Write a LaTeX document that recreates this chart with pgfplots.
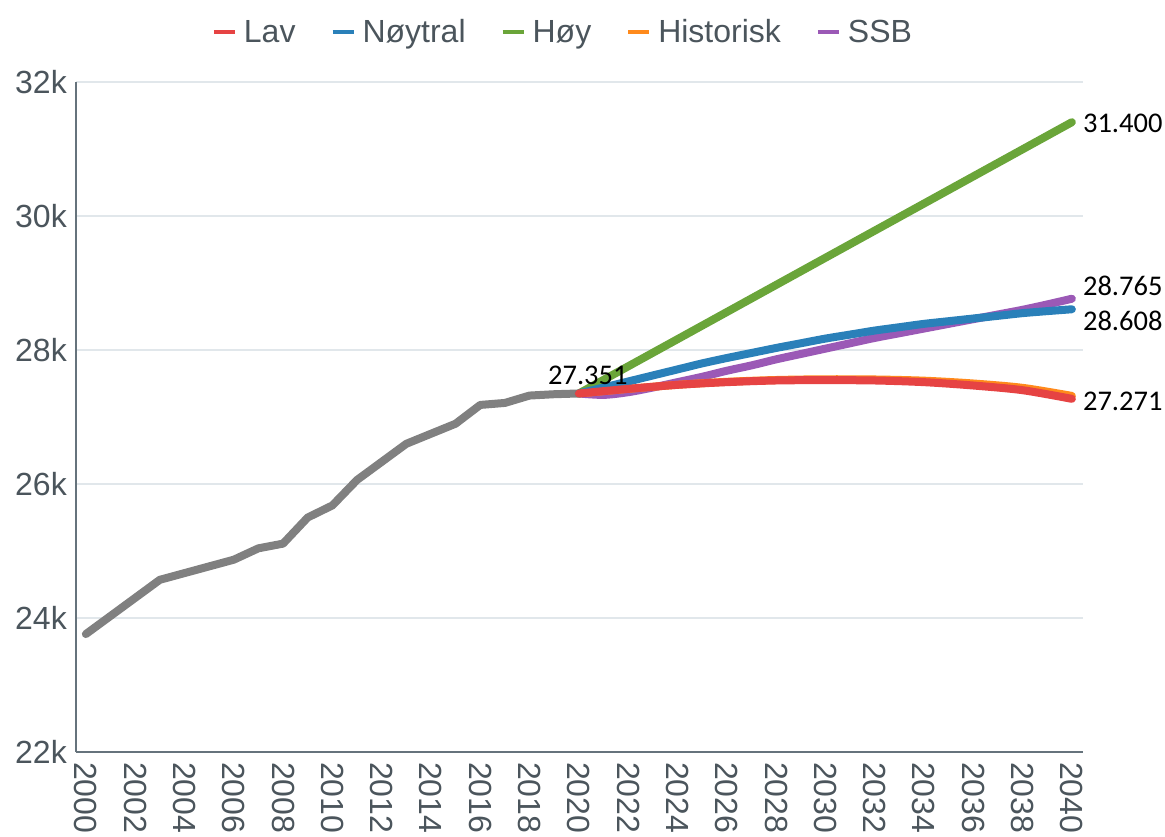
\documentclass[border=0pt]{standalone}
\usepackage{pgfplots}
\pgfplotsset{compat=1.18}
\usepackage{fontspec}
\setmainfont{Liberation Sans}
\newfontfamily\calib{Carlito}
\definecolor{cgray}{HTML}{808080}
\definecolor{cred}{HTML}{E64343}
\definecolor{cblue}{HTML}{2A80B9}
\definecolor{cgreen}{HTML}{6AA539}
\definecolor{corange}{HTML}{FF8A1C}
\definecolor{cpurple}{HTML}{9B59B6}
\definecolor{gridc}{HTML}{E1E7EB}
\definecolor{axisc}{HTML}{66737C}
\definecolor{tickc}{HTML}{4B555C}
\begin{document}
\begin{tikzpicture}[x=1pt,y=1pt]
\path[use as bounding box] (-76,-84) rectangle (1089,752);
\clip (-76,-84) rectangle (1089,752);
\begin{axis}[
  at={(0,0)}, anchor=south west,
  scale only axis, width=1007pt, height=670pt,
  xmin=1999.6, xmax=2040.45, ymin=22000, ymax=32000,
  clip=false,
  axis lines*=left,
  axis line style={-, color=axisc, line width=2.5pt},
  major tick length=0pt,
  xtick={2000,2002,...,2040},
  ytick={22000,24000,...,32000},
  yticklabels={22k,24k,26k,28k,30k,32k},
  scaled y ticks=false,
  ymajorgrids, grid style={color=gridc, line width=1.5pt},
  /pgf/number format/1000 sep={},
  /pgf/number format/assume math mode=true,
  tick label style={font=\fontsize{32}{36}\selectfont, text=tickc},
  yticklabel style={anchor=east, inner sep=0pt, xshift=-9pt},
  xticklabel style={yshift=-10pt, rotate=-90, anchor=west, inner sep=0pt},
  legend columns=5,
  legend image code/.code={\draw[#1, line width=4pt, line cap=butt] (0pt,0pt) -- (21pt,0pt);},
  legend style={at={(0.4826,1.0746)}, anchor=center, draw=none, fill=none,
    font=\fontsize{32}{36}\selectfont, text=tickc,
    nodes={inner sep=0pt},
    /tikz/every odd column/.append style={column sep=7pt},
    /tikz/every even column/.append style={column sep=35pt}},
  every axis plot/.append style={line width=8pt, line cap=round, line join=round},
]
\addlegendimage{cred}\addlegendentry{Lav}
\addlegendimage{cblue}\addlegendentry{Nøytral}
\addlegendimage{cgreen}\addlegendentry{Høy}
\addlegendimage{corange}\addlegendentry{Historisk}
\addlegendimage{cpurple}\addlegendentry{SSB}

\addplot[cgray, forget plot] coordinates {
(2000,23760) (2001,24030) (2002,24300) (2003,24570) (2004,24670)
(2005,24770) (2006,24870) (2007,25040) (2008,25110) (2009,25500)
(2010,25680) (2011,26060) (2012,26330) (2013,26600) (2014,26750)
(2015,26900) (2016,27180) (2017,27210) (2018,27320) (2019,27340)
(2020,27351)};

% SSB
\addplot[cpurple, forget plot, smooth] coordinates {
(2020,27351) (2021,27330) (2022,27370) (2023,27440) (2024,27520)
(2025,27600) (2026,27690) (2027,27770) (2028,27860) (2029,27940)
(2030,28020) (2031,28100) (2032,28180) (2033,28250) (2034,28320)
(2035,28390) (2036,28460) (2037,28530) (2038,28600) (2039,28680)
(2040,28765)};

% Historisk
\addplot[corange, forget plot, smooth] coordinates {
(2020,27351) (2022,27420) (2024,27480) (2026,27525) (2028,27552)
(2030,27563) (2032,27560) (2034,27542) (2036,27500) (2038,27435)
(2040,27315)};

% Hoy
\addplot[cgreen, forget plot] coordinates {
(2020,27351) (2030,29376) (2040,31400)};

% Noytral
\addplot[cblue, forget plot, smooth] coordinates {
(2020,27351) (2021,27440) (2022,27530) (2023,27620) (2024,27710)
(2025,27800) (2026,27880) (2027,27955) (2028,28030) (2029,28100)
(2030,28170) (2031,28230) (2032,28290) (2033,28340) (2034,28390)
(2035,28430) (2036,28470) (2037,28510) (2038,28550) (2039,28580)
(2040,28608)};

% Lav
\addplot[cred, forget plot, smooth] coordinates {
(2020,27351) (2022,27420) (2024,27480) (2026,27520) (2028,27545)
(2030,27550) (2032,27545) (2034,27520) (2036,27470) (2038,27400)
(2040,27271)};

\node[font=\calib\fontsize{28.5}{30}\selectfont, inner sep=0pt, anchor=base, xshift=9pt, yshift=9pt] at (axis cs:2020,27351) {27.351};
\node[font=\calib\fontsize{28.5}{30}\selectfont, inner sep=0pt, anchor=west, xshift=11pt, yshift=-1pt] at (axis cs:2040,31400) {31.400};
\node[font=\calib\fontsize{28.5}{30}\selectfont, inner sep=0pt, anchor=west, xshift=11pt, yshift=13pt] at (axis cs:2040,28765) {28.765};
\node[font=\calib\fontsize{28.5}{30}\selectfont, inner sep=0pt, anchor=west, xshift=11pt, yshift=-12pt] at (axis cs:2040,28608) {28.608};
\node[font=\calib\fontsize{28.5}{30}\selectfont, inner sep=0pt, anchor=west, xshift=11pt, yshift=-3pt] at (axis cs:2040,27271) {27.271};
\end{axis}
\end{tikzpicture}
\end{document}
